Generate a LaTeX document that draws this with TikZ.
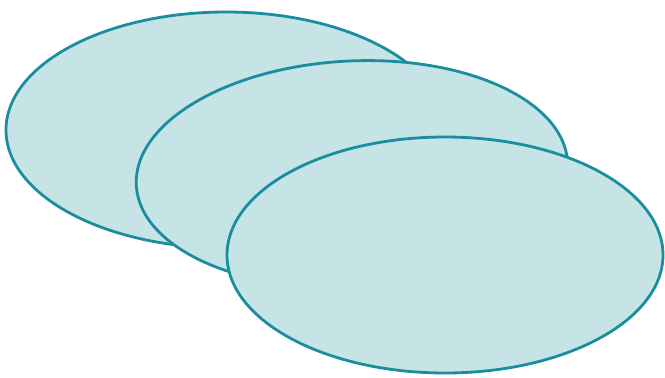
\documentclass[tikz,border=0pt]{standalone}
\definecolor{discfill}{HTML}{C6E4E6}
\definecolor{discline}{HTML}{1A8E9E}
\begin{document}
\begin{tikzpicture}[x=1pt,y=-1pt,disc/.style={fill=discfill,draw=discline,line width=2.8pt}]
\useasboundingbox (0,0) rectangle (665,378);
\filldraw[disc] (226,130) ellipse (220 and 118);
\filldraw[disc,rotate around={3:(352,174)}] (352,174) ellipse (216 and 113);
\filldraw[disc] (445,255) ellipse (218 and 118);
\end{tikzpicture}
\end{document}
